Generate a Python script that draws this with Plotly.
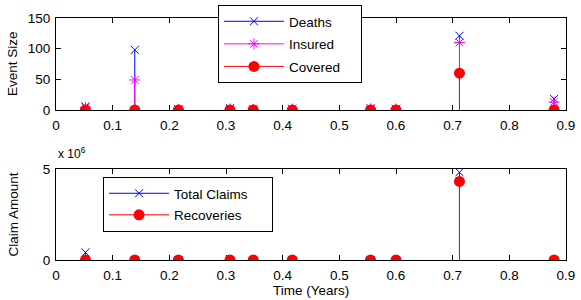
import plotly.graph_objects as go

# ---- data ----
times = [0.052, 0.139, 0.216, 0.307, 0.348, 0.417, 0.555, 0.600, 0.712, 0.879]
deaths = [6, 98, 1, 3, 1, 2, 3, 2, 121, 18]
insured = [4, 49, 1, 2, 1, 2, 2, 2, 110, 13]
covered = [0, 0, 0, 0, 0, 0, 0, 0, 60, 0]
total_claims = [0.42e6, 0, 0, 0, 0, 0, 0, 0, 4.82e6, 0]
recoveries = [0, 0, 0, 0, 0, 0, 0, 0, 4.32e6, 0]
x_ticks = [0, 0.1, 0.2, 0.3, 0.4, 0.5, 0.6, 0.7, 0.8, 0.9]
top_y_ticks = [0, 50, 100, 150]
bottom_y_ticks = [0, 5e6]
bottom_y_ticklabels = ["0", "5"]

FONT = "Liberation Sans, Arial, sans-serif"
FS = 13.5
BLUE = "#0000ff"
MAG = "#ff00ff"
RED = "#ff0000"
PAD1 = "\u00a0" * 4   # legend right padding (top box)
PAD2 = "\u00a0" * 5   # legend right padding (bottom box)

fig = go.Figure()


def stem(x, y, color, symbol, size, name, xa, ya, legend, group, mline=1):
    # stems drawn as error bars from baseline 0 up to the value
    fig.add_trace(go.Scatter(
        x=x, y=y, mode="markers", xaxis=xa, yaxis=ya, showlegend=False,
        marker=dict(symbol=symbol, size=size, color=color,
                    line=dict(color=color, width=mline)),
        error_y=dict(type="data", symmetric=False, array=[0] * len(y),
                     arrayminus=y, color=color, thickness=1, width=0),
        hoverinfo="skip"))
    # legend entry
    fig.add_trace(go.Scatter(
        x=[None], y=[None], mode="lines+markers", name=name, xaxis=xa, yaxis=ya,
        legend=legend, legendgroup=group,
        line=dict(color=color, width=1),
        marker=dict(symbol=symbol, size=size, color=color,
                    line=dict(color=color, width=mline))))


stem(times, deaths, BLUE, "x-thin-open", 8, "Deaths" + PAD1, "x", "y", "legend", "a")
stem(times, insured, MAG, "asterisk-open", 9, "Insured" + PAD1, "x", "y", "legend", "b")
stem(times, covered, RED, "circle", 11, "Covered" + PAD1, "x", "y", "legend", "c", mline=0)
stem(times, total_claims, BLUE, "x-thin-open", 8, "Total Claims" + PAD2, "x2", "y2", "legend2", "d")
stem(times, recoveries, RED, "circle", 11, "Recoveries" + PAD2, "x2", "y2", "legend2", "e", mline=0)

axis_common = dict(showline=True, linecolor="black", linewidth=1, mirror="ticks",
                   ticks="inside", ticklen=5, tickcolor="black", showgrid=False,
                   zeroline=False, automargin=False, layer="below traces",
                   tickfont=dict(family=FONT, size=FS, color="black"))

fig.update_layout(
    width=581, height=300,
    margin=dict(l=56, r=15, t=18, b=40, autoexpand=False),
    paper_bgcolor="white", plot_bgcolor="white",
    font=dict(family=FONT, size=FS, color="black"),
    xaxis=dict(domain=[0, 1], range=[0, 0.9], tickvals=x_ticks, anchor="y",
               ticklabelstandoff=3, **axis_common),
    yaxis=dict(domain=[0.6198, 1.0], range=[0, 150], tickvals=top_y_ticks, anchor="x",
               ticklabelstandoff=2, **axis_common),
    xaxis2=dict(domain=[0, 1], range=[0, 0.9], tickvals=x_ticks, anchor="y2",
                ticklabelstandoff=3, **axis_common),
    yaxis2=dict(domain=[0, 0.376], range=[0, 5e6], tickvals=bottom_y_ticks,
                ticktext=bottom_y_ticklabels, anchor="x2", ticklabelstandoff=2,
                **axis_common),
    legend=dict(x=0.3176, y=1.0537, xanchor="left", yanchor="top",
                bgcolor="white", bordercolor="black", borderwidth=1,
                itemwidth=60, tracegroupgap=2, traceorder="grouped",
                font=dict(family=FONT, size=FS)),
    legend2=dict(x=0.0922, y=0.343, xanchor="left", yanchor="top",
                 bgcolor="white", bordercolor="black", borderwidth=1,
                 itemwidth=60, tracegroupgap=1, traceorder="grouped",
                 font=dict(family=FONT, size=FS)),
    annotations=[
        dict(text="x 10<sup>6</sup>", xref="paper", yref="paper",
             x=0, y=0.40, xanchor="left", yanchor="bottom", showarrow=False,
             font=dict(family=FONT, size=12)),
        dict(text="Event Size", xref="paper", yref="paper", x=-0.0843, y=0.81,
             xanchor="center", yanchor="middle", textangle=-90, showarrow=False,
             font=dict(family=FONT, size=FS)),
        dict(text="Claim Amount", xref="paper", yref="paper", x=-0.0843, y=0.188,
             xanchor="center", yanchor="middle", textangle=-90, showarrow=False,
             font=dict(family=FONT, size=FS)),
        dict(text="Time (Years)", xref="paper", yref="paper", x=0.5, y=-0.128,
             xanchor="center", yanchor="middle", showarrow=False,
             font=dict(family=FONT, size=FS)),
    ],
)

fig.write_html("out.html", config={"displayModeBar": False},
               post_script="document.body.style.margin='0';document.body.style.overflow='hidden';")
